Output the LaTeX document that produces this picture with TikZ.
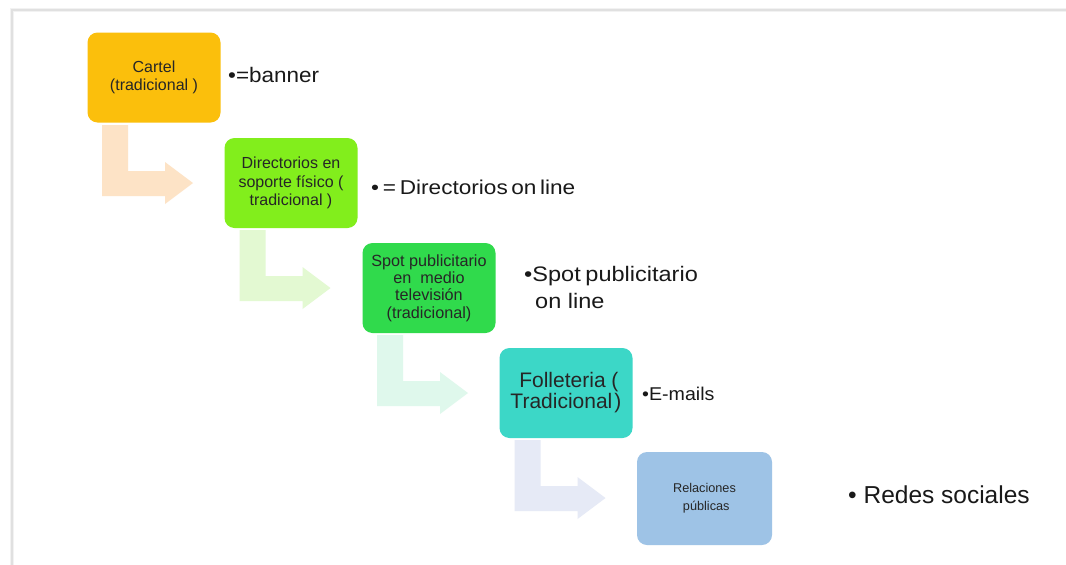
\documentclass[tikz,border=0pt]{standalone}
\usepackage{fontspec}
\setmainfont{Liberation Sans}
\begin{document}
\begin{tikzpicture}[x=1pt,y=-1pt,
  stage/.style={rounded corners=10pt, minimum width=133pt, minimum height=90pt, inner sep=2pt, align=center, text=black!85, font=\fontsize{16}{18.5}\selectfont},
  label/.style={anchor=base west, text=black!90, inner sep=0pt}
]
\definecolor{cOrange}{HTML}{FBBF0C}
\definecolor{cLime}{HTML}{82EE1C}
\definecolor{cGreen}{HTML}{30DA4C}
\definecolor{cTeal}{HTML}{3CD7C7}
\definecolor{cBlue}{HTML}{9EC3E6}
\definecolor{aPeach}{HTML}{FDE3C6}
\definecolor{aLime}{HTML}{E3F9D2}
\definecolor{aMint}{HTML}{DFF8EC}
\definecolor{aLav}{HTML}{E6EAF6}
\useasboundingbox[fill=white] (0,0) rectangle (1066,565);
% slide frame shadow
\draw[black!5, line width=4pt] (12,565) -- (12,10) -- (1066,10);
\draw[black!12, line width=1.2pt] (12,565) -- (12,10) -- (1066,10);
% bent arrows
\foreach \k/\c in {0/aPeach,1/aLime,2/aMint,3/aLav}{
  \fill[\c, shift={(137.5*\k,105*\k)}] (102,125) -- (128,125) -- (128,171) -- (165,171) -- (165,162) -- (193,183) -- (165,204) -- (165,196) -- (102,196) -- cycle;
}
% boxes
\node[stage, fill=cOrange] (b1) at (154,77.5) {Cartel\\(tradicional )};
\node[stage, fill=cLime] (b2) at (291,183) {Directorios en\\soporte físico (\\ tradicional )};
\node[stage, fill=cGreen, font=\fontsize{16.2}{17.4}\selectfont] (b3) at (429,288) {Spot publicitario\\ en\ \ medio\\televisión\hspace{0.9em}\\(tradicional)};
\node[stage, fill=cTeal, font=\fontsize{21}{21}\selectfont] (b4) at (566,393) {\ Folleteria (\\Tradicional\hspace{0.1em})};
\node[stage, fill=cBlue, font=\fontsize{12.7}{18}\selectfont, minimum width=135pt, minimum height=93pt] (b5) at (704.5,498.5) {Relaciones\\ \ públicas};
% labels
\node[label, font=\fontsize{21}{24}\selectfont] (t1) at (228,82) {\scalebox{1.07}[1]{•=banner}};
\node[label, font=\fontsize{20}{24}\selectfont] (t2) at (371,194) {\scalebox{1.13}[1]{•\,=\,Directorios\hspace{-0.12em} on\hspace{-0.12em} line}};
\node[label, font=\fontsize{21}{26}\selectfont] (t3) at (524,281) {\scalebox{1.12}[1]{•Spot\hspace{-0.08em} publicitario}};
\node[label, font=\fontsize{21}{26}\selectfont] (t3b) at (535,308) {\scalebox{1.12}[1]{on line}};
\node[label, font=\fontsize{18.5}{24}\selectfont] (t4) at (642,400) {\scalebox{1.06}[1]{•E-mails}};
\node[label, font=\fontsize{24.5}{26}\selectfont] (t5) at (848,503) {• Redes sociales};
\end{tikzpicture}
\end{document}
